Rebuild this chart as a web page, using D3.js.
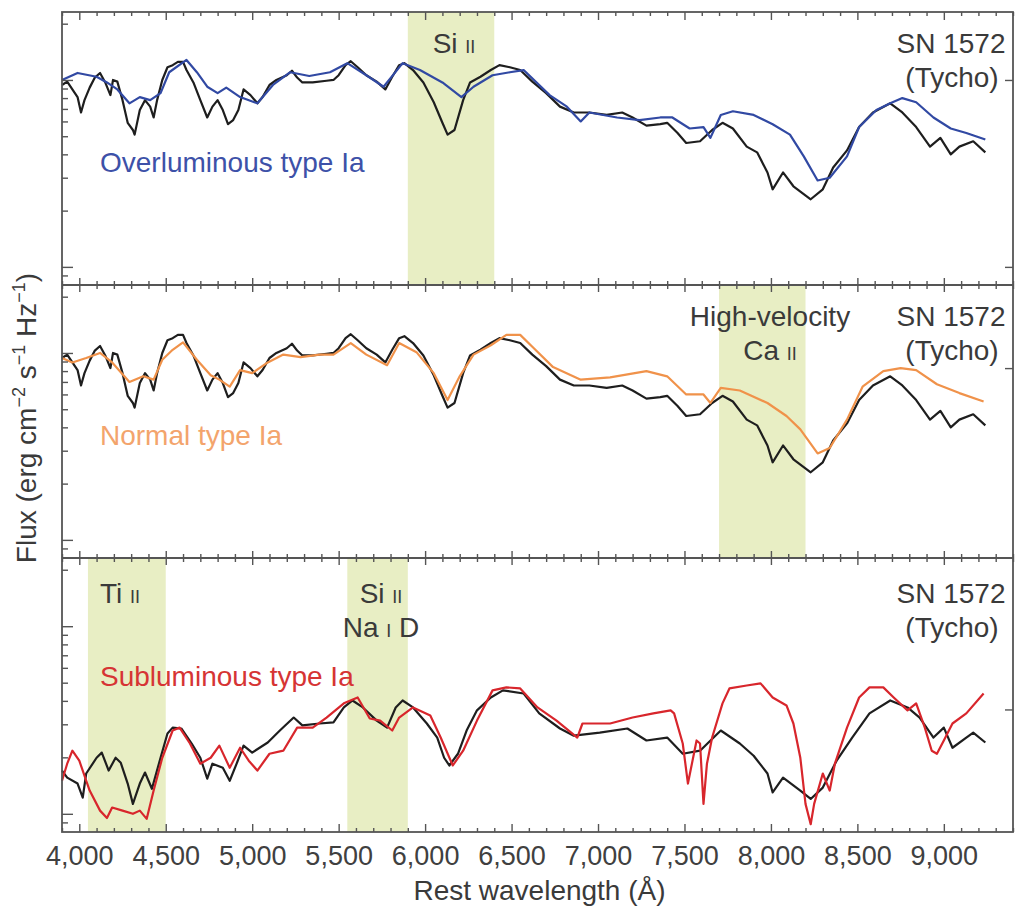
<!DOCTYPE html>
<html>
<head>
<meta charset="utf-8">
<script src="https://cdn.jsdelivr.net/npm/d3@7"></script>
<style>
  body { margin: 0; background: #fff; }
  svg { display: block; }
  text { font-family: "Liberation Sans", Arial, sans-serif; fill: #3a3a3a; }
</style>
</head>
<body>
<svg id="chart" width="1017" height="911"></svg>
<script>
// [wavelength (A), flux]
var tycho = [[3900,9.4],[3930,9.8],[3960,8.9],[3990,8.1],[4010,6.7],[4030,7.8],[4060,9.1],[4090,10.3],[4120,10.9],[4150,9.7],[4180,8.3],[4195,10.0],[4220,9.8],[4250,7.8],[4280,5.9],[4310,5.4],[4320,5.1],[4350,6.9],[4380,7.8],[4410,7.2],[4430,6.3],[4450,7.8],[4480,10.0],[4510,11.7],[4540,12.0],[4570,12.5],[4600,12.5],[4620,11.3],[4660,9.7],[4700,7.8],[4740,6.3],[4770,7.2],[4800,7.8],[4830,6.9],[4860,5.8],[4890,6.1],[4920,6.9],[4950,8.9],[4990,8.3],[5030,7.5],[5060,8.1],[5100,9.4],[5140,10.0],[5200,10.6],[5230,11.2],[5260,10.3],[5290,9.7],[5350,9.7],[5430,9.9],[5470,10.0],[5500,10.6],[5540,12.0],[5570,12.6],[5610,11.7],[5660,10.6],[5720,9.8],[5770,8.9],[5810,10.4],[5850,12.0],[5880,12.3],[5930,11.3],[5990,9.7],[6050,7.6],[6100,5.9],[6130,5.1],[6170,5.4],[6220,7.8],[6260,9.7],[6320,10.4],[6380,11.3],[6430,12.0],[6490,11.7],[6550,11.3],[6620,9.8],[6700,8.5],[6780,7.2],[6860,6.7],[6950,6.7],[7050,6.5],[7140,6.7],[7200,6.3],[7280,5.7],[7360,5.8],[7400,5.9],[7460,5.2],[7510,4.6],[7590,4.7],[7660,5.4],[7720,5.9],[7780,5.5],[7860,4.4],[7920,4.1],[7980,3.2],[8010,2.6],[8070,3.2],[8130,2.7],[8230,2.3],[8300,2.6],[8360,3.4],[8440,4.2],[8510,5.6],[8590,6.7],[8690,7.5],[8760,6.7],[8840,5.6],[8920,4.4],[8980,4.9],[9040,4.0],[9090,4.4],[9170,4.7],[9240,4.1]];

var overluminous = [[3900,10.0],[3990,10.9],[4100,10.4],[4160,9.7],[4220,8.9],[4290,7.5],[4350,8.1],[4410,7.8],[4470,8.5],[4520,11.0],[4620,12.8],[4680,11.0],[4740,9.2],[4800,8.5],[4850,9.1],[4930,8.1],[5030,7.5],[5120,9.4],[5220,11.0],[5330,10.5],[5450,11.0],[5550,12.3],[5660,10.6],[5760,9.2],[5870,12.3],[5970,11.3],[6100,9.7],[6210,8.1],[6280,9.2],[6390,10.6],[6490,11.0],[6570,11.3],[6720,8.3],[6820,7.2],[6900,6.0],[6950,6.7],[7110,6.3],[7240,6.1],[7360,6.3],[7430,6.3],[7530,5.5],[7610,5.6],[7650,4.9],[7710,6.5],[7780,6.8],[7900,6.5],[8010,5.8],[8110,5.1],[8190,3.9],[8270,2.9],[8340,3.0],[8440,3.9],[8510,5.6],[8610,6.9],[8690,7.5],[8760,8.0],[8840,7.6],[8940,6.3],[9040,5.5],[9130,5.2],[9240,4.8]];

var normal = [[3900,9.4],[3960,8.9],[4040,9.4],[4120,10.0],[4190,8.9],[4290,7.0],[4370,7.5],[4430,7.2],[4480,9.2],[4540,10.4],[4600,11.4],[4680,9.2],[4760,7.6],[4810,7.2],[4870,6.6],[4930,8.1],[5000,7.8],[5090,8.9],[5180,9.8],[5280,9.5],[5390,9.8],[5470,9.8],[5570,11.3],[5660,9.8],[5780,8.6],[5850,11.3],[5950,10.1],[6050,7.8],[6130,5.6],[6200,7.5],[6280,9.8],[6380,11.0],[6470,12.5],[6550,12.5],[6620,10.8],[6740,8.4],[6900,7.2],[7070,7.4],[7280,8.0],[7400,7.5],[7510,6.0],[7610,6.0],[7650,5.4],[7710,6.5],[7820,6.3],[7980,5.4],[8090,4.6],[8170,3.9],[8270,2.9],[8340,3.1],[8440,4.4],[8530,6.6],[8650,8.0],[8750,8.3],[8840,8.1],[8960,6.8],[9090,6.1],[9230,5.5]];

var tychoLow = [[3900,1.70],[3930,1.56],[3990,1.45],[4020,1.22],[4040,1.64],[4100,1.99],[4130,2.12],[4170,1.70],[4210,1.99],[4240,1.87],[4280,1.45],[4310,1.13],[4350,1.45],[4380,1.66],[4420,1.36],[4470,1.99],[4510,2.68],[4540,2.88],[4590,2.85],[4650,2.37],[4700,1.99],[4740,1.54],[4770,1.85],[4830,1.76],[4870,1.50],[4910,1.85],[4950,2.31],[5000,2.12],[5090,2.40],[5160,2.78],[5240,3.26],[5290,2.96],[5390,3.03],[5470,3.07],[5530,3.69],[5580,4.02],[5640,3.69],[5720,3.14],[5780,2.88],[5830,3.69],[5870,4.02],[5930,3.69],[6010,3.03],[6070,2.55],[6110,1.99],[6140,1.81],[6190,2.09],[6240,2.78],[6300,3.56],[6380,4.17],[6450,4.55],[6570,4.38],[6660,3.43],[6780,2.85],[6860,2.61],[7010,2.71],[7170,2.85],[7280,2.46],[7400,2.55],[7490,2.09],[7590,2.17],[7710,2.78],[7820,2.37],[7900,2.04],[7980,1.64],[8010,1.30],[8070,1.56],[8170,1.33],[8230,1.20],[8300,1.38],[8380,1.92],[8470,2.55],[8570,3.43],[8690,4.02],[8790,3.69],[8860,3.26],[8940,2.55],[9000,2.88],[9050,2.25],[9130,2.55],[9170,2.71],[9240,2.40]];

var subluminous = [[3900,1.50],[3930,1.85],[3960,2.17],[4000,1.92],[4060,1.33],[4120,1.04],[4160,0.95],[4190,1.08],[4250,1.04],[4310,1.00],[4350,1.04],[4390,0.94],[4430,1.33],[4480,1.99],[4540,2.78],[4580,2.88],[4640,2.37],[4700,1.85],[4760,1.99],[4810,2.31],[4870,1.76],[4930,2.25],[4980,1.92],[5030,1.70],[5100,2.09],[5180,2.17],[5260,2.88],[5350,2.88],[5430,3.26],[5530,3.88],[5610,4.17],[5680,3.22],[5740,3.14],[5810,2.78],[5850,3.26],[5930,3.69],[6030,3.34],[6090,2.55],[6160,1.81],[6220,2.17],[6300,3.14],[6390,4.55],[6470,4.72],[6550,4.66],[6650,3.69],[6760,3.14],[6880,2.55],[6910,3.03],[7070,3.03],[7200,3.26],[7320,3.43],[7420,3.56],[7440,3.43],[7490,2.37],[7520,1.45],[7570,2.46],[7590,2.37],[7610,1.13],[7630,1.85],[7660,2.55],[7720,3.88],[7760,4.66],[7860,4.83],[7940,4.96],[8010,4.17],[8090,3.78],[8130,3.03],[8170,1.99],[8200,1.13],[8230,0.88],[8250,1.13],[8300,1.64],[8340,1.33],[8370,1.85],[8440,2.88],[8510,4.17],[8570,4.72],[8650,4.72],[8710,4.17],[8790,3.56],[8840,3.88],[8890,2.88],[8930,2.17],[8960,2.09],[9000,2.46],[9050,3.03],[9130,3.43],[9230,4.38]];

// shaded line regions
var bandPanel = [0, 1, 2, 2];
var bandFrom = [5900, 7700, 4050, 5550];
var bandTo = [6400, 8200, 4500, 5900];

var xMajor = [4000, 4500, 5000, 5500, 6000, 6500, 7000, 7500, 8000, 8500, 9000];
var yMajor = [1, 10];
var yMinor = [0.9, 2, 3, 4, 5, 6, 7, 8, 9, 20];
var yRightTicks = [[1, 10], [8.3], [3.6]];

var typeNames = ["Overluminous type Ia", "Normal type Ia", "Subluminous type Ia"];

(function() {
    var svg = d3.select("#chart"),
        left = 62, right = 1013,
        edges = [12, 285, 558, 832],
        axisCol = "#555";

    var x = d3.scaleLinear().domain([3900, 9400]).range([left, right]);
    var xMinor = d3.range(3900, 9401, 100).filter(function(v) { return v % 500 !== 0; });

    var ys = [0, 1, 2].map(function(i) {
        return d3.scaleLog().domain([0.8, 23.1]).range([edges[i + 1], edges[i]]);
    });

    var panels = [
        { black: tycho, other: overluminous, col: "#3149a3", textCol: "#3d51a8" },
        { black: tycho, other: normal, col: "#f0924a", textCol: "#f3a46c" },
        { black: tychoLow, other: subluminous, col: "#d8262c", textCol: "#d63434" }
    ];

    // bands
    bandPanel.forEach(function(p, i) {
        svg.append("rect")
            .attr("x", x(bandFrom[i]))
            .attr("y", edges[p])
            .attr("width", x(bandTo[i]) - x(bandFrom[i]))
            .attr("height", edges[p + 1] - edges[p])
            .attr("fill", "#e8eec4");
    });

    // spectra
    panels.forEach(function(p, i) {
        var line = d3.line()
            .x(function(d) { return x(d[0]); })
            .y(function(d) { return ys[i](d[1]); });
        svg.append("path").datum(p.black)
            .attr("d", line).attr("fill", "none")
            .attr("stroke", "#1e1e1e").attr("stroke-width", 2.2)
            .attr("stroke-linejoin", "round");
        svg.append("path").datum(p.other)
            .attr("d", line).attr("fill", "none")
            .attr("stroke", p.col).attr("stroke-width", 2.2)
            .attr("stroke-linejoin", "round");
    });

    function styleAxis(g) {
        g.select(".domain").remove();
        g.selectAll("line").attr("stroke", axisCol).attr("stroke-width", 1.4);
    }

    function xTicks(yPos, size, values) {
        svg.append("g")
            .attr("transform", "translate(0," + yPos + ")")
            .call(d3.axisBottom(x).tickValues(values).tickSize(size).tickFormat(""))
            .call(styleAxis);
    }

    // x ticks on every horizontal edge
    xTicks(edges[0], 8, xMajor);
    xTicks(edges[0], 4, xMinor);
    [edges[1], edges[2]].forEach(function(e) {
        xTicks(e, 7, xMajor);
        xTicks(e, -7, xMajor);
        xTicks(e, 4, xMinor);
        xTicks(e, -4, xMinor);
    });
    xTicks(edges[3], -4, xMinor);

    svg.append("g")
        .attr("transform", "translate(0," + edges[3] + ")")
        .call(d3.axisBottom(x).tickValues(xMajor).tickSize(-8).tickPadding(14).tickFormat(d3.format(",")))
        .call(styleAxis)
        .call(function(g) {
            g.selectAll("text").attr("font-size", 27).style("fill", "#404040")
                .attr("font-family", "'Liberation Sans', Arial, sans-serif");
        });

    // y ticks
    ys.forEach(function(y, i) {
        svg.append("g").attr("transform", "translate(" + left + ",0)")
            .call(d3.axisRight(y).tickValues(yMajor).tickSize(11).tickFormat(""))
            .call(styleAxis);
        svg.append("g").attr("transform", "translate(" + left + ",0)")
            .call(d3.axisRight(y).tickValues(yMinor).tickSize(6).tickFormat(""))
            .call(styleAxis);
        svg.append("g").attr("transform", "translate(" + right + ",0)")
            .call(d3.axisLeft(y).tickValues(yRightTicks[i]).tickSize(8).tickFormat(""))
            .call(styleAxis);
    });

    // frame
    svg.append("rect")
        .attr("x", left).attr("y", edges[0])
        .attr("width", right - left).attr("height", edges[3] - edges[0])
        .attr("fill", "none").attr("stroke", axisCol).attr("stroke-width", 1.8);
    [edges[1], edges[2]].forEach(function(e) {
        svg.append("line").attr("x1", left).attr("x2", right)
            .attr("y1", e).attr("y2", e)
            .attr("stroke", axisCol).attr("stroke-width", 1.8);
    });

    // text helpers
    function label(xp, yp, parts, anchor, col, size) {
        var t = svg.append("text")
            .attr("x", xp).attr("y", yp)
            .attr("text-anchor", anchor || "middle")
            .attr("font-size", size || 28);
        if (col) t.style("fill", col);
        parts.forEach(function(p) {
            var s = t.append("tspan").text(p[0]);
            if (p[1]) s.attr("font-size", p[1]);
        });
        return t;
    }

    // ion labels
    label(454, 53, [["Si "], ["II", 18]]);
    label(770, 326, [["High-velocity"]]);
    label(770, 360, [["Ca "], ["II", 18]]);
    label(100, 603, [["Ti "], ["II", 18]], "start");
    label(381, 603, [["Si "], ["II", 18]]);
    label(381, 637, [["Na "], ["I", 18], [" D"]]);

    // supernova labels
    [0, 273, 550].forEach(function(dy) {
        label(951, 53 + dy, [["SN 1572"]]);
        label(952, 87 + dy, [["(Tycho)"]]);
    });

    // comparison names
    label(100, 172, [[typeNames[0]]], "start", panels[0].textCol);
    label(100, 445, [[typeNames[1]]], "start", panels[1].textCol);
    label(100, 686, [[typeNames[2]]], "start", panels[2].textCol);

    // axis titles
    svg.append("text")
        .attr("x", (left + right) / 2 + 2).attr("y", 900)
        .attr("text-anchor", "middle").attr("font-size", 28)
        .text("Rest wavelength (\u00c5)");

    var yt = svg.append("text")
        .attr("transform", "translate(36,418) rotate(-90)")
        .attr("text-anchor", "middle").attr("font-size", 28);
    yt.append("tspan").text("Flux (erg cm");
    yt.append("tspan").attr("font-size", 18).attr("dy", -11).text("\u22122");
    yt.append("tspan").attr("dy", 11).text(" s");
    yt.append("tspan").attr("font-size", 18).attr("dy", -11).text("\u22121");
    yt.append("tspan").attr("dy", 11).text(" Hz");
    yt.append("tspan").attr("font-size", 18).attr("dy", -11).text("\u22121");
    yt.append("tspan").attr("dy", 11).text(")");
})();
</script>
</body>
</html>
